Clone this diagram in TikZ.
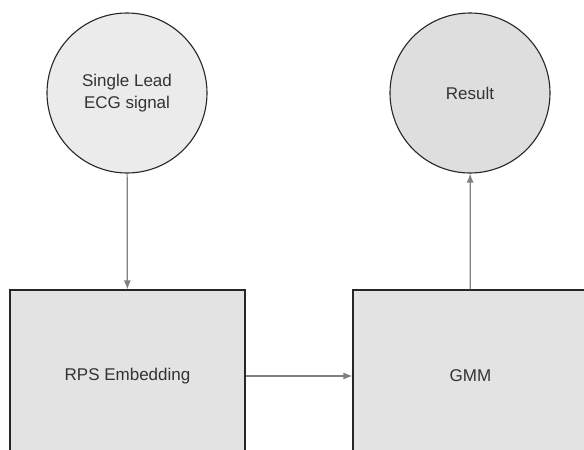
\documentclass[tikz,border=0pt]{standalone}
\usepackage{fontspec}
\setmainfont{Liberation Sans}
\usetikzlibrary{arrows.meta}

\tikzset{
  label font/.style={font=\fontsize{17}{22}\selectfont, text=black!80},
  blob/.style={circle, draw=black!85, line width=1.1pt, minimum size=160pt, inner sep=0pt, align=center, label font},
  stagebox/.style={rectangle, draw=black!85, line width=1.1pt, fill=black!11, minimum width=235pt, minimum height=172pt, inner sep=0pt, label font},
  flow/.style={draw=black!50, line width=1.2pt, -{Latex[length=9pt,width=7pt]}},
}

\begin{document}
\begin{tikzpicture}[x=1pt, y=-1pt]
	%%%%% START %%%%%
	\clip (0, 0) rectangle (584, 450);
	\fill[white] (0, 0) rectangle (584, 450);

	\node[blob, fill=black!8] (ecg) at (127, 93) {Single Lead\\ECG signal};
	\node[blob, fill=black!13] (result) at (470, 93) {Result};

	\node[stagebox] (rps) at (127.5, 376) {RPS Embedding};
	\node[stagebox] (gmm) at (470.5, 376) {GMM};

	\draw[flow] (ecg) -- (rps);
	\draw[flow] (rps) -- (gmm);
	\draw[flow] (gmm) -- (result);
	%%%%% END %%%%%
\end{tikzpicture}
\end{document}
